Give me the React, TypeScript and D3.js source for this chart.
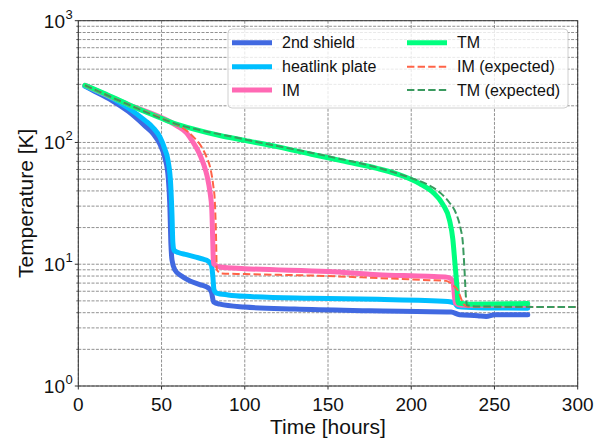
import React from "react";
import * as d3 from "d3";

// [time (hours), temperature (K)]
const shield2nd: [number, number][] = [
  [4, 290], [10, 262], [20, 222], [30, 180], [40, 137], [45, 118], [49, 97], [52, 75],
  [54, 52], [55, 30], [55.6, 15], [56.3, 10.8], [58, 9.0], [62, 8.0], [67, 7.3], [73, 6.8],
  [78, 6.4], [80, 5.9], [81.3, 4.9], [85, 4.7], [100, 4.45], [130, 4.28], [175, 4.15],
  [224, 4.05], [229, 3.85], [240, 3.78], [245, 3.72], [250, 3.85], [270, 3.85],
];
const heatlink: [number, number][] = [
  [4, 290], [10, 268], [20, 232], [30, 192], [40, 152], [45, 132], [49, 111], [52, 88],
  [54, 70], [55.5, 45], [56.3, 25], [56.8, 15], [57.5, 13], [60, 12.5], [65, 12], [70, 11.5],
  [75, 11.0], [78, 10.6], [80, 9.8], [80.8, 8], [81.5, 6.2], [83, 5.8], [90, 5.6], [100, 5.45],
  [140, 5.25], [180, 5.15], [222, 4.95], [226, 4.8], [228, 4.5], [240, 4.4], [270, 4.35],
];
const im: [number, number][] = [
  [4, 295], [30, 205], [55, 148], [60, 135], [65, 120], [69, 100], [72, 85], [75, 68],
  [77.5, 52], [79, 40], [80.2, 28], [80.8, 15], [81.2, 10.1], [85, 9.5], [100, 9.2],
  [150, 8.7], [180, 8.2], [210, 7.95], [222, 7.8], [225, 7.3], [226.5, 4.8], [230, 4.6], [270, 4.6],
];
const tm: [number, number][] = [
  [4, 295], [15, 255], [30, 205], [45, 168], [55, 148], [70, 128], [85, 114], [100, 104],
  [120, 92], [140, 80], [160, 70], [180, 61], [195, 53], [205, 46], [213, 39], [219, 31],
  [223, 23], [225, 16], [226.3, 10], [227.3, 7], [228.2, 4.8], [235, 4.7], [270, 4.75],
];
const imExpected: [number, number][] = [
  [4, 295], [30, 205], [55, 148], [60, 138], [66, 122], [70, 108], [74, 92], [77, 76],
  [79.5, 60], [81, 45], [82, 33], [82.7, 18], [83.2, 9.0], [86, 8.4], [100, 8.3], [150, 8.0],
  [180, 7.7], [211, 7.4], [221, 7.3], [225, 6.75], [228, 6.1], [230, 5.2], [231.5, 4.7],
  [234, 4.48], [300, 4.45],
];
const tmExpected: [number, number][] = [
  [4, 295], [30, 205], [55, 148], [100, 106], [150, 77], [180, 62], [200, 51], [210, 45],
  [218, 38], [223, 32], [227, 26], [229.5, 20], [231, 15], [232, 9], [232.8, 5.5],
  [233.5, 4.6], [240, 4.5], [300, 4.45],
];

const seriesNames = ["2nd shield", "heatlink plate", "IM", "TM", "IM (expected)", "TM (expected)"];
const seriesData = [shield2nd, heatlink, im, tm, imExpected, tmExpected];
const seriesColors = ["#4169e1", "#00bfff", "#ff69b4", "#00ff7f", "#ff6347", "#3a9a5f"];
const seriesDashed = [false, false, false, false, true, true];

const xTicks = [0, 50, 100, 150, 200, 250, 300];
const yDecades = [0, 1, 2, 3];

const W = 602;
const H = 441;
const left = 78.3;
const right = 577.7;
const top = 20.7;
const bottom = 386;
const font = "'Liberation Sans', Arial, sans-serif";

export default function App() {
  const x = d3.scaleLinear().domain([0, 300]).range([left, right]);
  const y = d3.scaleLog().domain([1, 1000]).range([bottom, top]);
  const line = d3
    .line<[number, number]>()
    .x((d) => x(d[0]))
    .y((d) => y(d[1]))
    .curve(d3.curveMonotoneX);

  // minor gridlines 2..9 in each decade
  const minor: number[] = [];
  yDecades.slice(0, 3).forEach((e) => {
    for (let m = 2; m <= 9; m++) minor.push(m * Math.pow(10, e));
  });

  const legX = [232, 407];
  const legY = [42.7, 66.7, 90];

  return (
    <svg width={W} height={H} style={{ position: "absolute", left: 0, top: 0, background: "#fff" }}>
      <defs>
        <clipPath id="plot">
          <rect x={left} y={top} width={right - left} height={bottom - top} />
        </clipPath>
      </defs>
      {/* grid */}
      <g stroke="#757575" strokeWidth={0.8} strokeDasharray="3,1.4" fill="none">
        {xTicks.map((t) => (
          <line key={"gx" + t} x1={x(t)} x2={x(t)} y1={top} y2={bottom} />
        ))}
        {yDecades.map((e) => (
          <line key={"gy" + e} x1={left} x2={right} y1={y(Math.pow(10, e))} y2={y(Math.pow(10, e))} />
        ))}
        {minor.map((v) => (
          <line key={"gm" + v} x1={left} x2={right} y1={y(v)} y2={y(v)} />
        ))}
      </g>
      {/* series */}
      <g clipPath="url(#plot)" fill="none" strokeLinejoin="round">
        {seriesData.map((d, i) => (
          <path
            key={seriesNames[i]}
            d={line(d) || ""}
            stroke={seriesColors[i]}
            strokeWidth={seriesDashed[i] ? 2 : 5}
            strokeDasharray={seriesDashed[i] ? "7.4,3.2" : undefined}
            strokeLinecap={seriesDashed[i] ? "butt" : "round"}
          />
        ))}
      </g>
      {/* frame */}
      <rect x={left} y={top} width={right - left} height={bottom - top} fill="none" stroke="#333" strokeWidth={1} />
      {/* x ticks */}
      <g fontFamily={font} fontSize={19} fill="#111" textAnchor="middle">
        {xTicks.map((t) => (
          <g key={"xt" + t}>
            <line x1={x(t)} x2={x(t)} y1={bottom} y2={bottom + 3.5} stroke="#333" />
            <text x={x(t)} y={bottom + 24.5}>{t}</text>
          </g>
        ))}
      </g>
      {/* y ticks */}
      <g fontFamily={font} fill="#111">
        {yDecades.map((e) => (
          <g key={"yt" + e}>
            <line x1={left - 3.5} x2={left} y1={y(Math.pow(10, e))} y2={y(Math.pow(10, e))} stroke="#333" />
            <text x={65} y={y(Math.pow(10, e)) + 7} fontSize={19} textAnchor="end">10</text>
            <text x={65.5} y={y(Math.pow(10, e)) - 2} fontSize={13}>{e}</text>
          </g>
        ))}
        {minor.map((v) => (
          <line key={"ym" + v} x1={left - 2} x2={left} y1={y(v)} y2={y(v)} stroke="#333" strokeWidth={0.8} />
        ))}
      </g>
      {/* axis titles */}
      <text x={(left + right) / 2} y={434} fontFamily={font} fontSize={21} textAnchor="middle" fill="#111">
        Time [hours]
      </text>
      <text
        transform={`translate(33,${(top + bottom) / 2}) rotate(-90)`}
        fontFamily={font}
        fontSize={21}
        textAnchor="middle"
        fill="#111"
      >
        Temperature [K]
      </text>
      {/* legend */}
      <rect x={228} y={29} width={340} height={79} rx={4} fill="#fff" fillOpacity={0.8} stroke="#d0d0d0" strokeWidth={1} />
      {seriesNames.map((name, i) => {
        const lx = legX[Math.floor(i / 3)];
        const ly = legY[i % 3];
        return (
          <g key={"leg" + name}>
            <line
              x1={lx}
              x2={lx + 40}
              y1={ly}
              y2={ly}
              stroke={seriesColors[i]}
              strokeWidth={seriesDashed[i] ? 2 : 5}
              strokeDasharray={seriesDashed[i] ? "7.4,3.2" : undefined}
            />
            <text x={lx + 50} y={ly + 5.5} fontFamily={font} fontSize={16} fill="#111">
              {name}
            </text>
          </g>
        );
      })}
    </svg>
  );
}
